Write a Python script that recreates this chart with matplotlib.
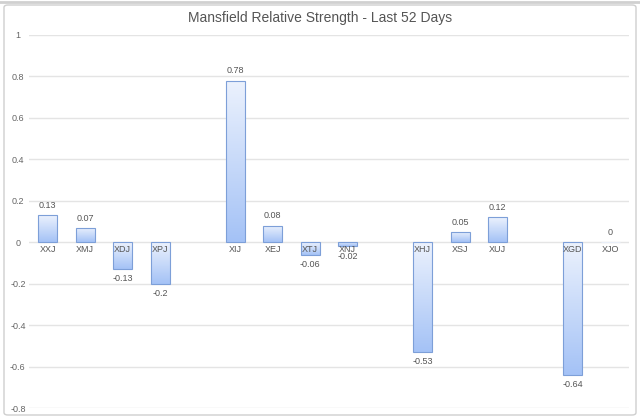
import numpy as np
import matplotlib
matplotlib.use("Agg")
import matplotlib.pyplot as plt
from matplotlib.patches import FancyBboxPatch
from matplotlib.colors import LinearSegmentedColormap

title = "Mansfield Relative Strength - Last 52 Days"
categories = ["XXJ", "XMJ", "XDJ", "XPJ", "", "XIJ", "XEJ", "XTJ", "XNJ", "",
              "XHJ", "XSJ", "XUJ", "", "XGD", "XJO"]
values = [0.13, 0.07, -0.13, -0.2, None, 0.78, 0.08, -0.06, -0.02, None,
          -0.53, 0.05, 0.12, None, -0.64, 0.0]
value_labels = ["0.13", "0.07", "-0.13", "-0.2", "", "0.78", "0.08", "-0.06", "-0.02", "",
                "-0.53", "0.05", "0.12", "", "-0.64", "0"]
yticks = [-0.8, -0.6, -0.4, -0.2, 0, 0.2, 0.4, 0.6, 0.8, 1]
ytick_labels = ["-0.8", "-0.6", "-0.4", "-0.2", "0", "0.2", "0.4", "0.6", "0.8", "1"]

plt.rcParams['font.family'] = ['Liberation Sans', 'DejaVu Sans']

fig = plt.figure(figsize=(6.4, 4.2), dpi=100)
fig.patch.set_facecolor('white')

# panel frame
frame = FancyBboxPatch((4/640, 5/420), 632/640, 410/420,
                       boxstyle="round,pad=0,rounding_size=0.006",
                       transform=fig.transFigure, facecolor='none',
                       edgecolor='#cfcfcf', linewidth=1.0)
fig.patches.append(frame)
fig.add_artist(plt.Line2D([0, 1], [418.5/420, 418.5/420], color='#d0d0d0', lw=2,
                          transform=fig.transFigure))

ax = fig.add_axes([29/640, 12/420, 600/640, 373/420])
x = np.arange(len(categories))
vals = np.array([np.nan if v is None else v for v in values], dtype=float)

for yv in yticks:
    ax.axhline(yv, color='#e4e4e4', lw=1.0, zorder=0)

cmap = LinearSegmentedColormap.from_list('g', ['#a4c2f6', '#ecf2fd'])
grad = np.linspace(0, 1, 256).reshape(-1, 1)

bars = ax.bar(x, np.nan_to_num(vals), width=0.5, facecolor='none',
              edgecolor='#7d9fd8', linewidth=0.8, zorder=3)
for b, v in zip(bars, vals):
    if np.isnan(v):
        b.set_visible(False)
        continue
    x0, y0 = b.get_x(), b.get_y()
    w, h = b.get_width(), b.get_height()
    lo, hi = min(y0, y0 + h), max(y0, y0 + h)
    if hi - lo < 1e-9:
        b.set_edgecolor('#e8eef8')
        continue
    im = ax.imshow(grad, extent=[x0, x0 + w, lo, hi], origin='lower', cmap=cmap,
                   aspect='auto', zorder=2, interpolation='bilinear')
    im.set_clip_path(b)

ax.set_xlim(-0.5, len(categories) - 0.5)
ax.set_ylim(-0.8, 1.0)

for xi, v, lab, cat in zip(x, vals, value_labels, categories):
    if cat:
        ax.text(xi, -0.015, cat, ha='center', va='top', fontsize=6.5, color='#555555', zorder=5)
    if np.isnan(v):
        continue
    if v >= 0:
        ax.text(xi, v + 0.025, lab, ha='center', va='bottom', fontsize=6.5, color='#555555', zorder=5)
    else:
        ax.text(xi, v - 0.025, lab, ha='center', va='top', fontsize=6.5, color='#555555', zorder=5)

ax.set_xticks([])
ax.set_yticks(yticks)
ax.set_yticklabels(ytick_labels, fontsize=6.5, color='#666666')
ax.tick_params(axis='y', length=0, pad=8)
for t in ax.get_yticklabels():
    t.set_horizontalalignment('center')
for s in ax.spines.values():
    s.set_visible(False)
ax.patch.set_alpha(0)

fig.text(320/640, 1 - 18/420, title, ha='center', va='center', fontsize=10, color='#555555')

fig.savefig('out.png', dpi=100)
